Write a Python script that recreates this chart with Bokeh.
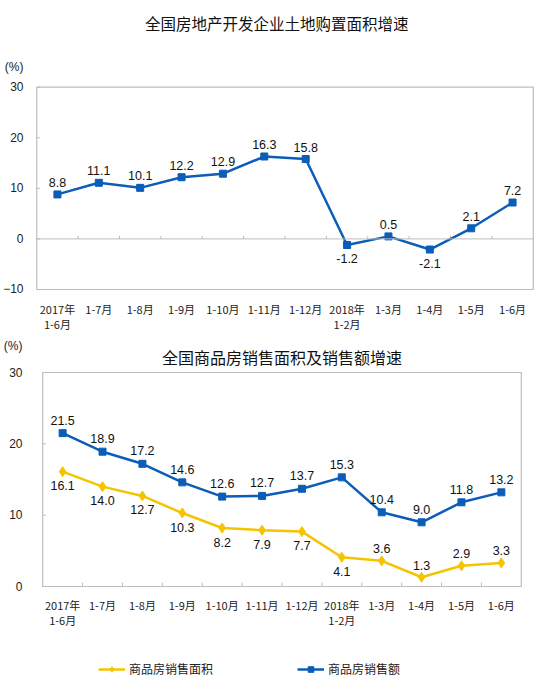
import numpy as np
from bokeh.plotting import figure
from bokeh.models import (ColumnDataSource, LabelSet, Label, Span, FixedTicker,
                          Legend, LegendItem)
from bokeh.layouts import column
from bokeh.embed import file_html
from bokeh.resources import INLINE
from bokeh.core.properties import value

# ---------------- data ----------------
categories = ["2017年\n1-6月", "1-7月", "1-8月", "1-9月", "1-10月", "1-11月",
              "1-12月", "2018年\n1-2月", "1-3月", "1-4月", "1-5月", "1-6月"]
land_growth = [8.8, 11.1, 10.1, 12.2, 12.9, 16.3, 15.8, -1.2, 0.5, -2.1, 2.1, 7.2]
sales_amount = [21.5, 18.9, 17.2, 14.6, 12.6, 12.7, 13.7, 15.3, 10.4, 9.0, 11.8, 13.2]
sales_area = [16.1, 14.0, 12.7, 10.3, 8.2, 7.9, 7.7, 4.1, 3.6, 1.3, 2.9, 3.3]
top_yticks = [-10, 0, 10, 20, 30]
bottom_yticks = [0, 10, 20, 30]
title1 = "全国房地产开发企业土地购置面积增速"
title2 = "全国商品房销售面积及销售额增速"
unit_text = "(%)"
name_area = "商品房销售面积"
name_amount = "商品房销售额"

# ---------------- style ----------------
BLUE = "#0B5DB8"
YELLOW = "#F5C400"
GRID = "#BDBDBD"
CJK = "Noto Sans CJK SC"
NUM = "Liberation Sans"
area_label_above = [False] * 8 + [True] * 4

n = len(categories)
xc = np.arange(n) + 0.5
bounds = np.arange(1, n)
XPAD = 0.03


def labels(p, xs, ys, offset):
    src = ColumnDataSource(dict(x=list(xs), y=list(ys), t=["%.1f" % v for v in ys]))
    p.add_layout(LabelSet(x="x", y="y", text="t", source=src, y_offset=offset,
                          text_align="center", text_baseline="middle",
                          text_font=value(NUM), text_font_size="12.5px",
                          text_color="#111111"))


def style(p, yticks, unit_y, ystandoff, xstandoff):
    p.grid.visible = False
    p.outline_line_color = None
    p.background_fill_color = "white"
    p.border_fill_color = "white"
    xa = p.xaxis[0]
    xa.ticker = FixedTicker(ticks=list(xc), minor_ticks=list(bounds))
    xa.major_label_overrides = {float(x): c for x, c in zip(xc, categories)}
    xa.major_tick_line_color = None
    xa.minor_tick_line_color = None
    xa.axis_line_color = None
    xa.major_label_text_font = CJK
    xa.major_label_text_font_size = "11px"
    xa.major_label_text_line_height = 0.95
    xa.major_label_text_color = "#222222"
    xa.major_label_standoff = xstandoff
    ya = p.yaxis[0]
    ya.ticker = FixedTicker(ticks=list(yticks) + [unit_y])
    ya.major_label_overrides = {unit_y: unit_text}
    ya.minor_tick_line_color = None
    ya.major_tick_line_color = None
    ya.axis_line_color = None
    ya.major_label_text_font = NUM
    ya.major_label_text_font_size = "12px"
    ya.major_label_text_color = "#222222"
    ya.major_label_standoff = ystandoff
    # plot-area box spanning the value range
    p.quad(left=0, right=n, bottom=min(yticks), top=max(yticks),
           fill_color=None, line_color=GRID, line_width=1.2)
    # small inward value ticks
    p.segment(x0=0, y0=yticks, x1=0.08, y1=yticks, line_color=GRID, line_width=1)


# ---------------- chart 1 ----------------
s1 = 203.0 / 40.0                      # px per unit
y1_hi = 30 + 80.0 / s1
p1 = figure(width=534, height=335, x_range=(-XPAD, n + XPAD), y_range=(-10.2, y1_hi),
            output_backend="svg", toolbar_location=None, title=None,
            min_border_left=29, min_border_right=0,
            min_border_top=7, min_border_bottom=45)
style(p1, top_yticks, 33.9, 6, 4)
p1.add_layout(Span(location=0, dimension="width", line_color=GRID, line_width=1))
p1.segment(x0=bounds, y0=0, x1=bounds, y1=0.6, line_color=GRID, line_width=1)
p1.line(xc, land_growth, line_color=BLUE, line_width=2.5)
p1.scatter(xc, land_growth, marker="square", size=7, fill_color=BLUE, line_color=BLUE)
pos = [(x, v) for x, v in zip(xc, land_growth) if v >= 0]
neg = [(x, v) for x, v in zip(xc, land_growth) if v < 0]
labels(p1, [a for a, b in pos], [b for a, b in pos], 12)
labels(p1, [a for a, b in neg], [b for a, b in neg], -14)
p1.add_layout(Label(x=5.80, y=42.6, text=title1, text_align="center",
                    text_baseline="middle", text_font=CJK, text_font_size="15.5px",
                    text_color="#111111"))

# ---------------- chart 2 ----------------
s2 = 214.0 / 30.0
y2_hi = 30 + 37.0 / s2
p2 = figure(width=534, height=305, x_range=(-XPAD, n + XPAD), y_range=(-0.14, y2_hi),
            output_backend="svg", toolbar_location=None, title=None,
            min_border_left=34, min_border_right=12,
            min_border_top=0, min_border_bottom=53)
style(p2, bottom_yticks, 33.78, 13, 3)
p2.segment(x0=bounds, y0=0, x1=bounds, y1=0.55, line_color=GRID, line_width=1)

p2.line(xc, sales_amount, line_color=BLUE, line_width=2.5)
p2.scatter(xc, sales_amount, marker="square", size=7, fill_color=BLUE, line_color=BLUE)
p2.line(xc, sales_area, line_color=YELLOW, line_width=2.5)
p2.scatter(xc, sales_area, marker="diamond", size=10, fill_color=YELLOW, line_color=YELLOW)

labels(p2, xc, sales_amount, 13)
up = [(x, v) for x, v, a in zip(xc, sales_area, area_label_above) if a]
dn = [(x, v) for x, v, a in zip(xc, sales_area, area_label_above) if not a]
labels(p2, [a for a, b in up], [b for a, b in up], 12)
labels(p2, [a for a, b in dn], [b for a, b in dn], -14)

p2.add_layout(Label(x=6.0, y=32.24, text=title2, text_align="center",
                    text_baseline="middle", text_font=CJK, text_font_size="16px",
                    text_color="#111111"))

# ---------------- legend strip ----------------
# The series are drawn again here only to carry the legend; the view range
# keeps them out of sight (all values are positive, the range is negative).
p3 = figure(width=534, height=38, x_range=(0, n), y_range=(-2, -1),
            output_backend="svg", toolbar_location=None, title=None,
            x_axis_type=None, y_axis_type=None,
            min_border_left=0, min_border_right=0, min_border_top=0, min_border_bottom=0)
p3.grid.visible = False
p3.outline_line_color = None
la_l = p3.line(xc, sales_area, line_color=YELLOW, line_width=2.5)
la_s = p3.scatter(xc, sales_area, marker="diamond", size=10, fill_color=YELLOW, line_color=YELLOW)
lb_l = p3.line(xc, sales_amount, line_color=BLUE, line_width=2.5)
lb_s = p3.scatter(xc, sales_amount, marker="square", size=7, fill_color=BLUE, line_color=BLUE)
legend = Legend(items=[LegendItem(label=name_area, renderers=[la_l, la_s]),
                       LegendItem(label=name_amount, renderers=[lb_l, lb_s])],
                orientation="horizontal", location=(98, 1),
                border_line_color=None, background_fill_alpha=0,
                padding=0, margin=0, spacing=84, glyph_width=27, glyph_height=14,
                label_standoff=4, label_height=14,
                label_text_font=CJK, label_text_font_size="12px",
                label_text_color="#222222")
p3.add_layout(legend)

layout = column(column(p1), column(p2), p3, spacing=0)
open("out.html", "w").write(file_html(layout, INLINE))
